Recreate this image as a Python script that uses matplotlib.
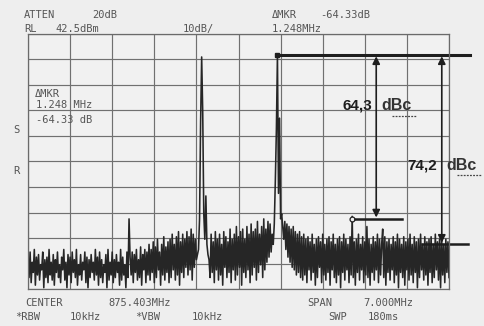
import numpy as np
import matplotlib.pyplot as plt

# analyzer settings
center_mhz = 875.403
span_mhz = 7.0
ref_level = 42.5
db_per_div = 10

# sweep trace (401 points, dBm)
seg_left = [
    -46, -53, -43, -55, -47, -51, -42, -56, -45, -52, -44, -54, -48, -50, -43, -57, -46, -53, -45, -55,
    -42, -52, -47, -54, -44, -56, -46, -51, -43, -53, -48, -55, -45, -50, -42, -54, -47, -57, -44, -52,
    -45, -55, -43, -51, -46, -53, -42, -56, -48, -52, -44, -54, -47, -50, -43, -55, -45, -57, -46, -53,
    -44, -51, -47, -54, -42, -52, -45, -56, -43, -53, -46, -55, -48, -51, -44, -57, -42, -54, -47, -52,
    -43, -55, -46, -53, -44, -51, -47, -56, -42, -54, -45, -52, -48, -57, -43, -53,
]
seg_spur = [-30]
seg_rise = [
    -45, -52, -43, -55, -44, -51, -42, -54, -46, -53, -41, -56, -44, -50, -42, -55, -43, -52, -40, -54,
    -42, -51, -39, -55, -41, -53, -38, -50, -43, -56, -40, -52, -37, -54, -41, -51, -39, -55, -38, -53,
    -36, -50, -40, -54, -37, -52, -35, -56, -39, -51, -36, -53, -38, -49,
    -35, -52, -37, -50, -34, -54, -36, -49, -38, -46, -44,
]
seg_carrier1 = [-42, -30, 8, 33.5, 12, -28, -38, -21, -40, -44]
seg_between = [
    -46, -53, -36, -51, -39, -55, -35, -50, -38, -54, -36, -52, -40, -56, -35, -49, -37, -53, -39, -51,
    -34, -55, -38, -50, -36, -54, -33, -52, -37, -49, -35, -56, -34, -51, -38, -53, -33, -50, -36, -55,
    -32, -52, -35, -49, -34, -54, -31, -51, -36, -48, -33, -53, -30, -50, -34, -47, -31, -45, -32, -43,
]
seg_carrier2 = [-36, -40, -32, -15, 5, 34.3, -20, 9.5, -30, -28, -33]
seg_skirt = [-38, -31, -42, -32, -45, -33, -47, -34, -49, -33, -50, -35, -52, -36, -51, -35, -53, -37, -54, -36]
seg_right = [
    -52, -38, -55, -37, -50, -39, -54, -36, -51, -40, -56, -38, -53, -37, -49, -39, -55, -36, -52, -40,
    -54, -38, -51, -37, -56, -39, -50, -36, -53, -40, -55, -38, -52, -37, -57, -39, -51, -36, -54, -38,
    -50, -40, -55, -37, -52, -29, -53, -39, -56, -38, -51, -36, -54, -40, -50, -37, -55, -39, -52, -33,
    -53, -38, -56, -40, -51, -37, -54, -39, -50, -36, -55, -38, -52, -40, -34, -53, -37, -56, -39, -51,
    -38, -54, -40, -50, -37, -55, -39, -52, -36, -57, -38, -51, -40, -53, -37, -56, -39, -50, -38, -54,
    -36, -52, -40, -55, -37, -51, -39, -57, -38, -53, -36, -50, -40, -54, -37, -52, -39, -56, -38, -51,
    -37, -55, -40, -53, -36, -50, -39, -54, -38, -57, -37, -52, -40, -55, -38, -51, -39, -53,
]
trace = np.array(seg_left + seg_spur + seg_rise + seg_carrier1 + seg_between
                 + seg_carrier2 + seg_skirt + seg_right, dtype=float)
freq = np.linspace(-span_mhz / 2, span_mhz / 2, len(trace))

# hand-drawn annotations
carrier_dbm = 34.3
carrier_off = 0.64       # MHz from center
mkr_delta_mhz = 1.248
dbc_values = [64.3, 74.2]
arrow_x = [2.29, 3.38]
low_line_x = [(1.94, 2.72), (3.05, 3.82)]

W, H = 484, 326
fig = plt.figure(figsize=(W / 100, H / 100), dpi=100, facecolor='#eeeeee')
ax = fig.add_axes([28 / W, 37 / H, 421 / W, 255 / H])
ax.set_facecolor('#f1f1f1')
bottom = ref_level - 10 * db_per_div
ax.set_xlim(-span_mhz / 2, span_mhz / 2)
ax.set_ylim(bottom, ref_level)
ax.set_xticks(np.linspace(-span_mhz / 2, span_mhz / 2, 11))
ax.set_yticks(np.linspace(bottom, ref_level, 11))
ax.tick_params(length=0, labelbottom=False, labelleft=False)
ax.grid(True, color='#707070', lw=0.85)
for s in ax.spines.values():
    s.set_color('#6a6a6a')
    s.set_linewidth(0.9)

ax.plot(freq, trace, color='#262626', lw=1.15)

# screen text
mono = dict(family='DejaVu Sans Mono', color='#555555', fontsize=7.5)
def put(x, y, s, **kw):
    fig.text(x / W, 1 - y / H, s, va='baseline', **{**mono, **kw})

put(24, 18, 'ATTEN'); put(92, 18, '20dB')
put(24, 32, 'RL'); put(55, 32, '42.5dBm')
put(183, 32, '10dB/')
put(272, 18, 'ΔMKR'); put(320, 18, '-64.33dB')
put(272, 32, '1.248MHz')
put(35, 97, 'ΔMKR')
put(36, 108, '1.248 MHz')
put(36, 123, f'-{dbc_values[0] + 0.03:.2f} dB')
put(13, 133, 'S')
put(13, 174, 'R')
put(25, 306, 'CENTER'); put(108, 306, f'{center_mhz:.3f}MHz')
put(307, 306, 'SPAN'); put(363, 306, f'{span_mhz:.3f}MHz')
put(15, 320, '*RBW'); put(70, 320, '10kHz')
put(135, 320, '*VBW'); put(192, 320, '10kHz')
put(328, 320, 'SWP'); put(368, 320, '180ms')

# reference line at carrier level and marker
ink = '#1e1e1e'
ax.plot([carrier_off, 3.85], [carrier_dbm, carrier_dbm], color=ink, lw=2.2, clip_on=False)
ax.plot([carrier_off], [carrier_dbm], marker='s', ms=3.5, color=ink, clip_on=False)
mkr_f = carrier_off + mkr_delta_mhz
ax.plot([mkr_f], [carrier_dbm - dbc_values[0]], marker='o', ms=3.5, mfc='#f1f1f1',
        mec=ink, mew=0.9)

for val, xa, (x0, x1) in zip(dbc_values, arrow_x, low_line_x):
    lvl = carrier_dbm - val
    ax.plot([x0, x1], [lvl, lvl], color=ink, lw=1.8, clip_on=False)
    ax.annotate('', xy=(xa, lvl), xytext=(xa, carrier_dbm), annotation_clip=False,
                arrowprops=dict(arrowstyle='<|-|>', color=ink, lw=1.2,
                                mutation_scale=11, shrinkA=1, shrinkB=1))
    ty = carrier_dbm - (val - 44.5 if val < 70 else val - 31)
    lbl = f'{val:.1f}'.replace('.', ',')
    ax.text(xa - 0.07, ty, lbl, ha='right', va='center', fontsize=11, fontweight='bold',
            family=['Liberation Sans Narrow', 'Liberation Sans'], color=ink, clip_on=False)
    ax.text(xa + 0.08, ty, 'dBc', ha='left', va='center', fontsize=11.5, fontweight='bold',
            family=['Liberation Sans', 'DejaVu Sans'], color='#333333', clip_on=False)
    ax.plot([xa + 0.26, xa + 0.66], [ty - 4.0, ty - 4.0], color='#444444', lw=0.9,
            ls=(0, (1.5, 1)), clip_on=False)

fig.savefig('out.png', dpi=100, facecolor=fig.get_facecolor())
